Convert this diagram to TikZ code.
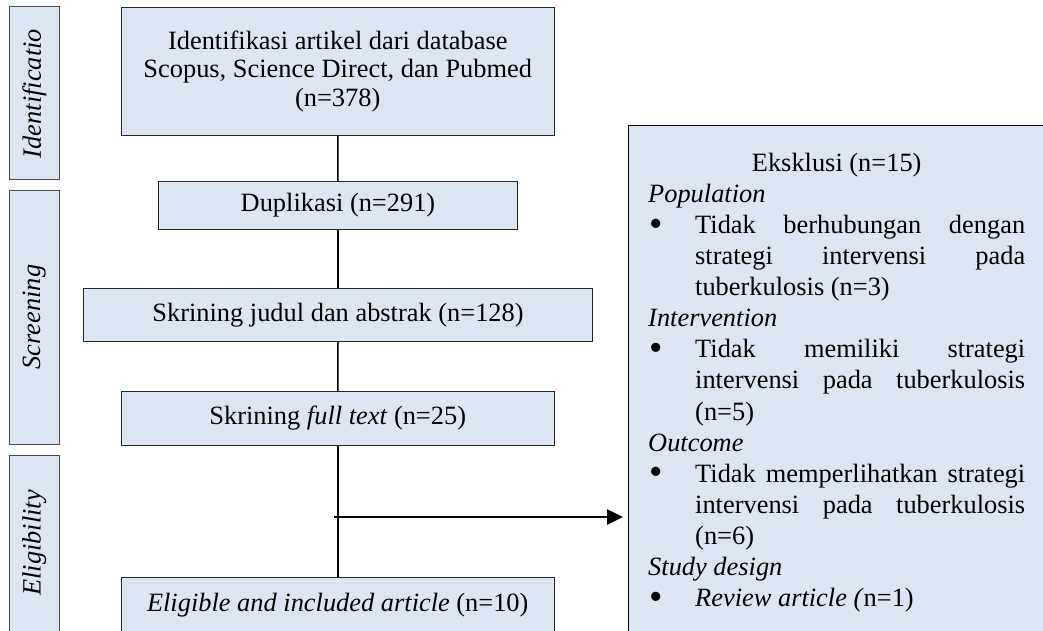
\documentclass[tikz,border=0pt]{standalone}
\usepackage{fontspec}
\setmainfont{Liberation Serif}
\usetikzlibrary{arrows.meta,calc}
\definecolor{boxfill}{HTML}{DCE6F2}
\newcommand{\exbullet}{\noindent\makebox[47pt][l]{\hspace{1pt}\raisebox{-2.6pt}{\scalebox{1.45}{\textbullet}}}}
\begin{document}
\begin{tikzpicture}[x=1pt,y=-1pt,
  every node/.style={font=\fontsize{26.4}{29.5}\selectfont},
  flowbox/.style={draw=black!85, line width=1pt, fill=boxfill, inner sep=0pt, anchor=north west, align=center},
  sidebox/.style={draw=black!70, line width=1pt, fill=boxfill, inner sep=0pt, rotate=90, font=\fontsize{26.4}{29.5}\selectfont\itshape},
  exclbox/.style={draw=black, line width=1pt, fill=boxfill, inner sep=0pt, anchor=north west},
  link/.style={line width=1.5pt, draw=black},
  arrowlink/.style={line width=2.5pt, draw=black, -{Triangle[length=16pt,width=15pt]}, shorten >=5pt}
]
\useasboundingbox (0,0) rectangle (1043,631);
\clip (0,0) rectangle (1043,631);

% side labels
\node[sidebox, minimum width=173pt, minimum height=49.5pt] (sideId) at (34.3,93.5) {Identificatio};
\node[sidebox, minimum width=254pt, minimum height=49.5pt] (sideSc) at (34.3,317) {Screening};
\node[sidebox, minimum width=176pt, minimum height=49.5pt] (sideEl) at (34.3,543) {Eligibility};

% flow boxes
\node[flowbox, minimum width=433.5pt, minimum height=128pt, font=\fontsize{26.4}{28.5}\selectfont] (b1) at (120.5,7)
  {Identifikasi artikel dari database\\Scopus, Science Direct, dan Pubmed\\(n=378)};
\node[flowbox, minimum width=359pt, minimum height=48pt] (b2) at (158,181) {Duplikasi (n=291)};
\node[flowbox, minimum width=509pt, minimum height=53pt] (b3) at (83,288) {Skrining judul dan abstrak (n=128)};
\node[flowbox, minimum width=433.5pt, minimum height=54pt] (b4) at (120.5,391) {Skrining \textit{full text} (n=25)};
\node[flowbox, minimum width=433.5pt, minimum height=56pt] (b5) at (120.5,577) {\textit{Eligible and included article} (n=10)};

% exclusion box
\node[exclbox, minimum width=430pt, minimum height=520pt] (excl) at (628,125) {};
\node[anchor=north west, inner sep=0pt, text width=377pt, align=justify,
      font=\fontsize{26.4}{31.1}\selectfont] (exclText) at (648,151) {%
\tolerance=10000\hbadness=10000\hyphenpenalty=10000\parindent=0pt
\noindent\makebox[\linewidth]{\rule{0pt}{20pt}Eksklusi (n=15)}\par
\textit{Population}\par
\hangindent=47pt\hangafter=1\exbullet Tidak berhubungan dengan\linebreak strategi intervensi pada\linebreak tuberkulosis (n=3)\par
\textit{Intervention}\par
\hangindent=47pt\hangafter=1\exbullet Tidak memiliki strategi\linebreak intervensi pada tuberkulosis\linebreak (n=5)\par
\textit{Outcome}\par
\hangindent=47pt\hangafter=1\exbullet Tidak memperlihatkan strategi\linebreak intervensi pada tuberkulosis\linebreak (n=6)\par
\textit{Study design}\par
\hangindent=47pt\hangafter=1\exbullet\textit{Review article (}n=1)\par};

% connectors
\draw[link] (b1.south) -- (b2.north);
\draw[link] (b2.south) -- (b3.north);
\draw[link] (b3.south) -- (b4.north);
\draw[link] (b4.south) -- (b5.north);
\coordinate (split) at (334,517);
\draw[arrowlink] (split) -- (split -| excl.west);
\end{tikzpicture}
\end{document}
